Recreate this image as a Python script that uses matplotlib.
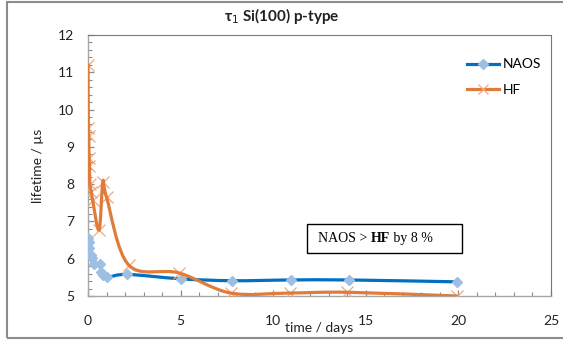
import matplotlib
matplotlib.use("Agg")
import matplotlib.pyplot as plt
from matplotlib.path import Path
from matplotlib.patches import PathPatch, Rectangle
from matplotlib.lines import Line2D
from matplotlib.ticker import MultipleLocator
import numpy as np

plt.rcParams['font.family'] = ['Lato', 'DejaVu Sans']

# ---- data ----
naos_days = [0.0, 0.03, 0.08, 0.15, 0.22, 0.3, 0.65, 0.7, 0.8, 1.05, 2.1, 5.0, 7.8, 10.95, 14.1, 19.9]
naos_life = [6.55, 6.45, 6.28, 6.1, 6.02, 5.85, 5.86, 5.65, 5.56, 5.5, 5.58, 5.46, 5.41, 5.43, 5.43, 5.38]

hf_days = [0.0, 0.02, 0.04, 0.06, 0.08, 0.1, 0.18, 0.25, 0.6, 0.8, 1.0, 2.2, 4.9, 7.7, 10.9, 14.0, 19.9]
hf_life = [11.2, 9.5, 9.3, 8.7, 8.5, 8.0, 7.8, 7.57, 6.77, 8.06, 7.65, 5.83, 5.62, 5.08, 5.08, 5.1, 5.0]

x_ticks = [0, 5, 10, 15, 20, 25]
y_ticks = [5, 6, 7, 8, 9, 10, 11, 12]

title = "τ$_1$ Si(100) p-type"
xlabel = "time / days"
ylabel = "lifetime / µs"
names = ["NAOS", "HF"]

NAOS_LINE = "#0070C0"
NAOS_MARK = "#9CBFE3"
HF_LINE = "#E07B39"
HF_MARK = "#F3A77C"


def smooth_path(xs, ys):
    """Excel-like smoothed line: cubic Bezier segments through the data points."""
    pts = np.column_stack([xs, ys]).astype(float)
    n = len(pts)
    verts = [pts[0]]
    codes = [Path.MOVETO]
    for i in range(n - 1):
        p0 = pts[i - 1] if i > 0 else pts[i]
        p1 = pts[i]
        p2 = pts[i + 1]
        p3 = pts[i + 2] if i + 2 < n else pts[i + 1]
        c1 = p1 + (p2 - p0) / 6.0
        c2 = p2 - (p3 - p1) / 6.0
        verts += [c1, c2, p2]
        codes += [Path.CURVE4] * 3
    return Path(verts, codes)


fig = plt.figure(figsize=(5.63, 3.4), dpi=100)
ax = fig.add_axes([88 / 563, 44 / 340, 463 / 563, 261 / 340])

# NAOS
ax.add_patch(PathPatch(smooth_path(naos_days, naos_life), facecolor='none',
                       edgecolor=NAOS_LINE, lw=2.3, capstyle='round', joinstyle='round', zorder=3))
ax.plot(naos_days, naos_life, ls='none', marker='D', ms=4.8, color=NAOS_MARK,
        mec=NAOS_MARK, zorder=4)
# HF
ax.plot(hf_days, hf_life, ls='none', marker='x', ms=8, mew=0.9, color=HF_MARK, zorder=5)
ax.add_patch(PathPatch(smooth_path(hf_days, hf_life), facecolor='none',
                       edgecolor=HF_LINE, lw=2.3, capstyle='round', joinstyle='round', zorder=6))

ax.set_xlim(0, 25)
ax.set_ylim(5, 12)
ax.set_xticks(x_ticks)
ax.set_yticks(y_ticks)
ax.xaxis.set_minor_locator(MultipleLocator(1))
ax.yaxis.set_minor_locator(MultipleLocator(0.2))

tick_gray = "#8C8C8C"
ax.tick_params(axis='x', which='major', direction='in', length=4.5, width=0.9,
               color=tick_gray, pad=13.5, labelsize=10, labelcolor='#222222')
ax.tick_params(axis='x', which='minor', direction='in', length=3, width=0.8, color=tick_gray)
ax.tick_params(axis='y', which='major', direction='in', length=4.5, width=0.9,
               color=tick_gray, pad=10, labelsize=10, labelcolor='#222222')
ax.tick_params(axis='y', which='minor', direction='in', length=3, width=0.8, color=tick_gray)

for s in ['left', 'bottom']:
    ax.spines[s].set_color('#A6A6A6')
    ax.spines[s].set_linewidth(1.0)
for s in ['top', 'right']:
    ax.spines[s].set_color('#4F81BD')
    ax.spines[s].set_linewidth(0.8)

ax.set_xlabel(xlabel, fontsize=10, color='#222222')
ax.xaxis.set_label_coords(0.5, -0.098)
ax.set_ylabel(ylabel, fontsize=10, color='#222222')
ax.yaxis.set_label_coords(-0.094, 0.5)

fig.text(0.5, 1 - 16 / 340, title, ha='center', va='center', fontsize=11,
         fontweight='bold', color='#222222')

handles = [
    Line2D([], [], color=NAOS_LINE, lw=2.3, marker='D', ms=4.8, mfc=NAOS_MARK, mec=NAOS_MARK),
    Line2D([], [], color=HF_LINE, lw=2.3, marker='x', ms=7, mew=0.9, mec=HF_MARK),
]
ax.legend(handles, names, loc='upper left', bbox_to_anchor=(0.8186, 0.91),
          frameon=False, fontsize=10, handlelength=2.3, handletextpad=0.25,
          labelspacing=0.95, borderpad=0, borderaxespad=0)

# annotation box
ax.add_patch(Rectangle((0.473, 0.165), 0.335, 0.111, transform=ax.transAxes,
                       facecolor='white', edgecolor='black', lw=1.0, zorder=7))
t1 = ax.text(0.497, 0.221, "NAOS > ", transform=ax.transAxes, ha='left', va='center',
             fontsize=10, family='Liberation Serif', zorder=8)
t2 = ax.annotate("HF", xy=(1, 0), xycoords=t1, ha='left', va='bottom', fontsize=10,
                 family='Liberation Serif', fontweight='bold', zorder=8)
t3 = ax.annotate(" by 8 %", xy=(1, 0), xycoords=t2, ha='left', va='bottom', fontsize=10,
                 family='Liberation Serif', zorder=8)

# chart-area border
fig.add_artist(Rectangle((7 / 563, 2 / 340), 1.0, 336 / 340, transform=fig.transFigure,
                         facecolor='none', edgecolor='#8C8C8C', lw=1.5))

fig.savefig("out.png", dpi=100)
